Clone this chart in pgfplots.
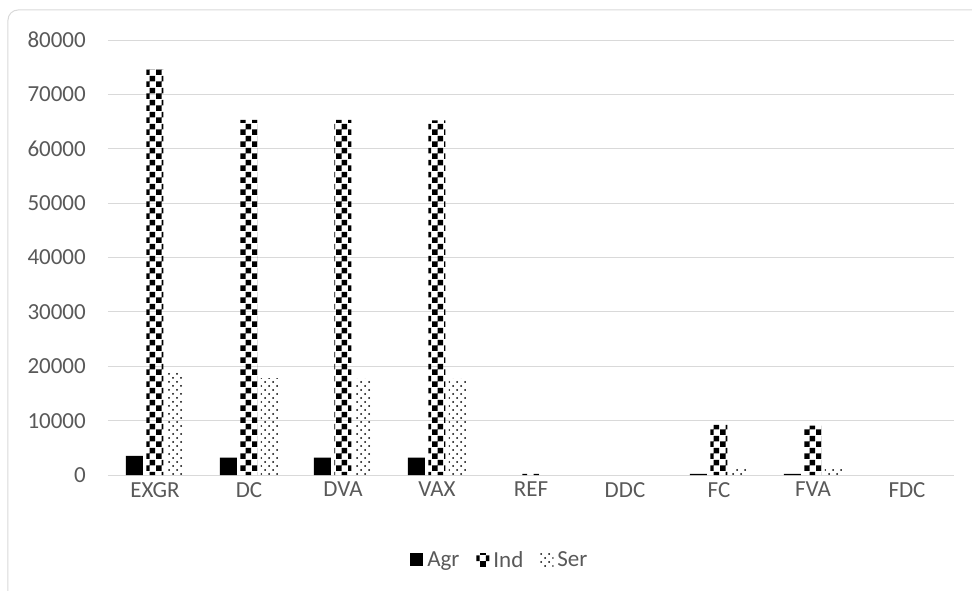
\documentclass[border=0pt]{standalone}
\usepackage{pgfplots}
\pgfplotsset{compat=1.18}
\usetikzlibrary{patterns}
\usepackage{fontspec}
\setmainfont{Carlito}
\definecolor{gridc}{HTML}{D9D9D9}
\definecolor{txt}{HTML}{595959}
\pgfdeclarepatternformonly{xchecker}{\pgfpointorigin}{\pgfqpoint{12bp}{12bp}}{\pgfqpoint{12bp}{12bp}}{%
 \pgfpathrectangle{\pgfpointorigin}{\pgfqpoint{6bp}{6bp}}%
 \pgfpathrectangle{\pgfqpoint{6bp}{6bp}}{\pgfqpoint{6bp}{6bp}}%
 \pgfusepath{fill}}
\pgfdeclarepatternformonly{xdots}{\pgfqpoint{-1bp}{-1bp}}{\pgfqpoint{9bp}{9bp}}{\pgfqpoint{8bp}{8bp}}{%
 \pgfpathcircle{\pgfqpoint{1bp}{1bp}}{1bp}%
 \pgfpathcircle{\pgfqpoint{5bp}{5bp}}{1bp}%
 \pgfusepath{fill}}
\begin{document}
\begin{tikzpicture}
\begin{axis}[
  at={(0,0)}, anchor=south west,
  scale only axis, width=846bp, height=435bp,
  ybar=3.5bp, bar width=17bp,
  xmin=-0.5, xmax=8.5, ymin=0, ymax=80000,
  xtick={0,...,8},
  xticklabels={EXGR,DC,DVA,VAX,REF,DDC,FC,FVA,FDC},
  ytick={0,10000,...,80000},
  scaled y ticks=false,
  /pgf/number format/fixed,
  /pgf/number format/1000 sep={},
  /pgf/number format/assume math mode=true,
  axis line style={draw=none},
  major tick length=0pt,
  ymajorgrids, grid style={gridc, line width=1bp},
  tick label style={font=\fontsize{23bp}{27bp}\selectfont, text=txt},
  yticklabel style={anchor=east, inner sep=0pt, xshift=-22bp},
  xticklabel style={anchor=north, inner sep=0pt, yshift=-7bp},
  legend style={at={(0.462,-0.195)}, anchor=center, draw=none, fill=none,
    font=\fontsize{23bp}{27bp}\selectfont, text=txt,
    nodes={inner sep=0pt},
    /tikz/every odd column/.append style={column sep=4bp},
    /tikz/every even column/.append style={column sep=17bp}},
  legend columns=3,
  legend image code/.code={\draw[draw=none,#1] (0bp,-6.5bp) rectangle (13bp,6.5bp);},
]
\addplot[draw=none, fill=black] coordinates {(0,3500) (1,3200) (2,3200) (3,3200) (6,200) (7,200)};
\addplot[draw=none, pattern=xchecker, pattern color=black] coordinates {(0,74600) (1,65300) (2,65300) (3,65200) (4,200) (6,9200) (7,9100)};
\addplot[draw=none, pattern=xdots, pattern color=black] coordinates {(0,18900) (1,17800) (2,17700) (3,17700) (6,1200) (7,1100)};
\legend{Agr,Ind,Ser}
\end{axis}
\draw[gridc, line width=1bp, rounded corners=10bp] (-100bp,-140bp) rectangle (880bp,465bp);
\pgfresetboundingbox
\path (-108bp,-116bp) rectangle (864bp,475bp);
\end{tikzpicture}
\end{document}
